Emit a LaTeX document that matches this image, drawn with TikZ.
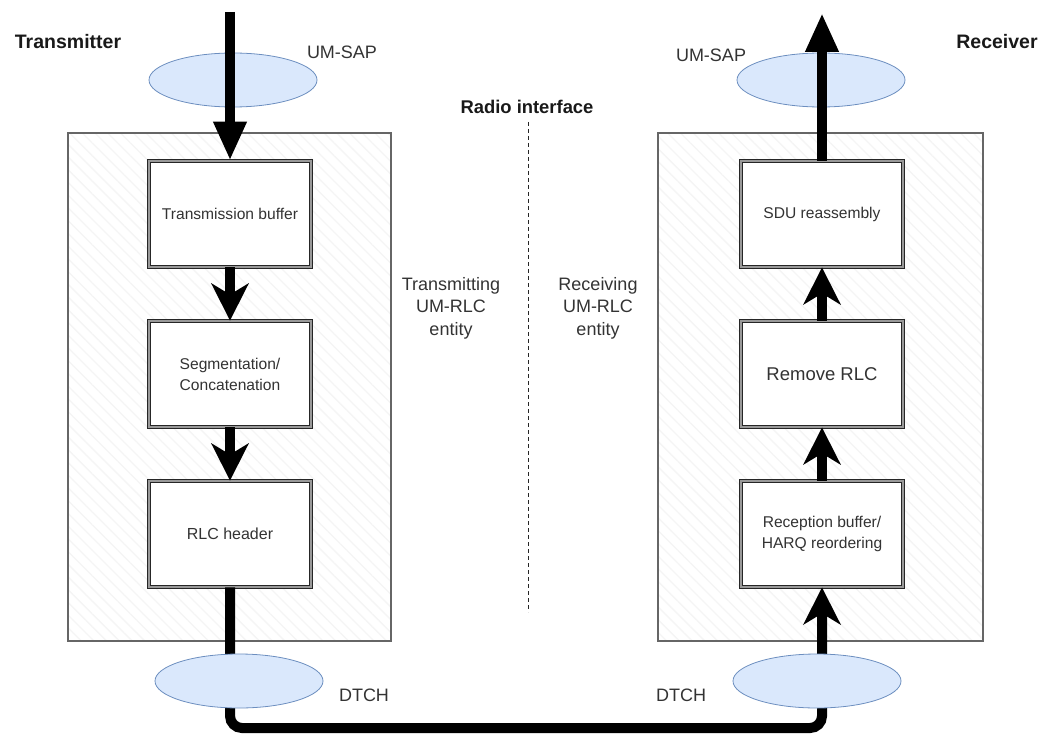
\documentclass[tikz,border=0pt]{standalone}
\usepackage{fontspec}
\setmainfont{Liberation Sans}
\usetikzlibrary{arrows.meta,patterns.meta,shapes.geometric}
\definecolor{sapfill}{HTML}{DAE8FC}
\definecolor{sapdraw}{HTML}{6C8EBF}
\definecolor{txtc}{HTML}{333333}
\begin{document}
\begin{tikzpicture}[x=1pt,y=-1pt,
  lbl/.style={text=txtc,font=\fontsize{18}{22.5}\selectfont,inner sep=0pt,align=center},
  ttl/.style={text=black!90,font=\bfseries\fontsize{19.5}{22}\selectfont,inner sep=0pt},
  entity/.style={draw=black!60,line width=1.8pt,inner sep=0pt,preaction={fill=white},
    pattern={Lines[angle=-45,distance=9pt,line width=1.3pt]},pattern color=black!4},
  stage/.style={draw=black!85,double=black!40,double distance=2pt,line width=0.8pt,fill=white,
    minimum width=162pt,minimum height=106pt,align=center,text=txtc,
    font=\fontsize{15.6}{21}\selectfont,inner sep=0pt},
  sap/.style={ellipse,draw=sapdraw,fill=sapfill,line width=0.8pt,minimum width=168pt,minimum height=54pt,inner sep=0pt},
  flow/.style={draw=black,line width=10pt},
  bigtip/.style={-{Triangle[length=39pt,width=31pt]}},
  midtip/.style={-{Stealth[length=37pt,width=37pt,inset=11pt]}}
]
\useasboundingbox (0,0) rectangle (1051,738);

% entity containers
\node[entity,minimum width=323pt,minimum height=508pt] (txbox) at (229.5,387) {};
\node[entity,minimum width=325pt,minimum height=508pt] (rxbox) at (820.5,387) {};

% radio interface
\coordinate (riT) at (528,122);
\coordinate (riB) at (528,612);
\draw[black!85,line width=1pt,dash pattern=on 4pt off 3pt] (riT) -- (riB);

% stages
\node[stage] (tb) at (230,214) {Transmission buffer};
\node[stage] (seg) at (230,374) {Segmentation/\\Concatenation};
\node[stage,font=\fontsize{16}{21}\selectfont] (rlch) at (230,534) {RLC header};
\node[stage] (sdu) at (822,214) {SDU reassembly};
\node[stage,font=\fontsize{18.5}{21}\selectfont] (rem) at (822,374) {Remove RLC};
\node[stage] (rec) at (822,534) {Reception buffer/\\HARQ reordering};

% bottom connector
\coordinate (bot) at (526,728);
\draw[flow,rounded corners=12pt,midtip] (rlch.south) |- (bot) -| (rec.south);

% SAP ellipses
\node[sap] (dtchL) at (239,681) {};
\node[sap] (dtchR) at (817,681) {};
\node[sap] (sapL) at (233,80) {};
\node[sap] (sapR) at (821,80) {};

% top arrows
\coordinate (inL) at (230,12);
\coordinate (outR) at (822,13);
\draw[flow,bigtip] (inL) -- (tb.north);
\draw[flow,bigtip] (sdu.north) -- (outR);

% inner arrows
\draw[flow,midtip] (tb.south) -- (seg.north);
\draw[flow,midtip] (seg.south) -- (rlch.north);
\draw[flow,midtip] (rec.north) -- (rem.south);
\draw[flow,midtip] (rem.north) -- (sdu.south);

% labels
\node[ttl] (tx) at (68,42) {Transmitter};
\node[ttl] (rx) at (997,42) {Receiver};
\node[ttl,font=\bfseries\fontsize{18.4}{22}\selectfont] (ri) at (527,107) {Radio interface};
\node[lbl] (sapLl) at (342,52) {UM-SAP};
\node[lbl] (sapRl) at (711,55) {UM-SAP};
\node[lbl] (dtchLl) at (364,695) {DTCH};
\node[lbl] (dtchRl) at (681,695) {DTCH};
\node[lbl] (txent) at (451,308) {Transmitting\\UM-RLC\\entity};
\node[lbl] (rxent) at (598,308) {Receiving\\UM-RLC\\entity};
\end{tikzpicture}
\end{document}
